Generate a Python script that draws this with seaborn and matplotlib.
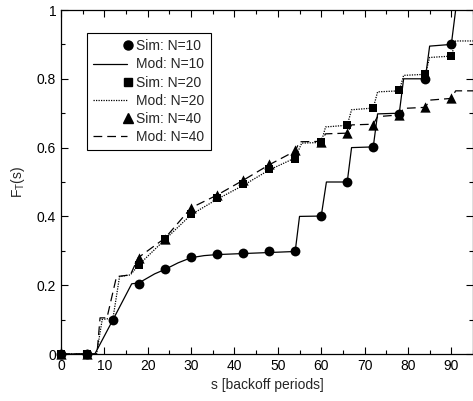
import matplotlib
matplotlib.use("Agg")
import matplotlib.pyplot as plt
import seaborn as sns
import pandas as pd
from matplotlib.lines import Line2D
from matplotlib.legend_handler import HandlerLine2D
from matplotlib.ticker import MultipleLocator

# ---- data ----
s_sim10 = [0, 6, 12, 18, 24, 30, 36, 42, 48, 54, 60, 66, 72, 78, 84, 90]
sim10 = [0, 0, 0.1, 0.204, 0.246, 0.283, 0.291, 0.294, 0.298, 0.300, 0.401, 0.50, 0.602, 0.698, 0.80, 0.90]

s_sim20 = [0, 6, 18, 24, 30, 36, 42, 48, 54, 60, 66, 72, 78, 84, 90]
sim20 = [0, 0, 0.259, 0.333, 0.407, 0.453, 0.494, 0.537, 0.567, 0.617, 0.667, 0.716, 0.767, 0.813, 0.867]

s_sim40 = [0, 6, 18, 24, 30, 36, 42, 48, 54, 60, 66, 72, 78, 84, 90]
sim40 = [0, 0, 0.278, 0.335, 0.423, 0.462, 0.506, 0.551, 0.593, 0.617, 0.642, 0.666, 0.695, 0.718, 0.743]

s_mod10 = [0, 7.8, 12, 16.3, 18, 21.6, 24, 27, 30, 33, 36, 42, 48, 54, 55, 60, 61.2, 66, 67, 72, 73, 78, 79, 84, 85, 90, 91, 95]
mod10 = [0, 0, 0.1, 0.204, 0.207, 0.233, 0.246, 0.265, 0.28, 0.286, 0.289, 0.292, 0.295, 0.298, 0.4, 0.401,
         0.5, 0.5, 0.6, 0.602, 0.698, 0.7, 0.8, 0.8, 0.895, 0.9, 1.0, 1.0]

s_mod20 = [0, 8.2, 9.5, 12, 13.5, 16, 18, 24, 30, 36, 42, 48, 54, 55.5, 60, 61, 66, 67, 72, 73, 78, 79, 84, 85, 90, 91, 95]
mod20 = [0, 0, 0.1, 0.105, 0.225, 0.23, 0.26, 0.333, 0.405, 0.45, 0.49, 0.535, 0.57, 0.613, 0.615, 0.66, 0.665,
         0.71, 0.715, 0.762, 0.765, 0.81, 0.813, 0.862, 0.866, 0.91, 0.91]

s_mod40 = [0, 8.3, 9, 10.6, 12.8, 16, 17.8, 24, 30, 36, 42, 48, 54, 55, 60, 61, 66, 67, 72, 73, 78, 79, 84, 85, 90, 91, 95]
mod40 = [0, 0, 0.105, 0.105, 0.225, 0.23, 0.28, 0.337, 0.425, 0.462, 0.505, 0.55, 0.59, 0.617, 0.618, 0.64, 0.642,
         0.666, 0.668, 0.69, 0.695, 0.714, 0.717, 0.738, 0.743, 0.765, 0.765]

x_ticks = [0, 10, 20, 30, 40, 50, 60, 70, 80, 90]
y_ticks = [0, 0.2, 0.4, 0.6, 0.8, 1.0]
y_ticklabels = ["0", "0.2", "0.4", "0.6", "0.8", "1"]

sns.set_style("ticks")
plt.rcParams["font.family"] = ["Liberation Sans", "DejaVu Sans"]
plt.rcParams["mathtext.fontset"] = "custom"
plt.rcParams["mathtext.rm"] = "Liberation Sans"
plt.rcParams["mathtext.it"] = "Liberation Sans:italic"

fig = plt.figure(figsize=(4.73, 4.01), dpi=100)
ax = fig.add_axes([61 / 473, 1 - 354 / 401, 1 - 61 / 473, (354 - 10) / 401])

lw = 0.9
dotted = (0, (1, 1))
dashed = (0, (7, 4))
sns.lineplot(x=s_mod10, y=mod10, ax=ax, color="black", lw=lw, sort=False, estimator=None)
sns.lineplot(x=s_mod20, y=mod20, ax=ax, color="black", lw=lw, sort=False, estimator=None, linestyle=dotted)
sns.lineplot(x=s_mod40, y=mod40, ax=ax, color="black", lw=lw, sort=False, estimator=None, linestyle=dashed)

sns.scatterplot(x=s_sim10, y=sim10, ax=ax, color="black", marker="o", s=50, edgecolor="black", linewidth=0,
                zorder=3, clip_on=False)
sns.scatterplot(x=s_sim40, y=sim40, ax=ax, color="black", marker="^", s=55, edgecolor="black", linewidth=0,
                zorder=4, clip_on=False)
sns.scatterplot(x=s_sim20, y=sim20, ax=ax, color="black", marker="s", s=40, edgecolor="black", linewidth=0,
                zorder=5, clip_on=False)

ax.set_xlim(0, 95)
ax.set_ylim(0, 1)
ax.set_xticks(x_ticks)
ax.set_yticks(y_ticks)
ax.set_yticklabels(y_ticklabels)
ax.xaxis.set_minor_locator(MultipleLocator(5))
ax.yaxis.set_minor_locator(MultipleLocator(0.1))
ax.tick_params(which="both", direction="in", top=True, right=True, labelsize=10, width=0.8, colors="black")
ax.tick_params(which="major", length=5)
ax.tick_params(which="minor", length=3)
for sp in ax.spines.values():
    sp.set_linewidth(0.9)
    sp.set_color("black")

ax.set_xlabel("s [backoff periods]", fontsize=10, labelpad=4)
ax.set_ylabel(r"F$_\mathrm{T}$(s)", fontsize=10, labelpad=7)


class RightMarkerHandler(HandlerLine2D):
    def get_xdata(self, legend, xdescent, ydescent, width, height, fontsize):
        pos = [-xdescent + width + 1]
        return pos, pos


handles = [
    Line2D([], [], color="black", marker="o", linestyle="none", markersize=6.5),
    Line2D([], [], color="black", lw=lw),
    Line2D([], [], color="black", marker="s", linestyle="none", markersize=5.5),
    Line2D([], [], color="black", lw=lw, linestyle=dotted),
    Line2D([], [], color="black", marker="^", linestyle="none", markersize=6.5),
    Line2D([], [], color="black", lw=lw, linestyle=dashed),
]
labels = ["Sim: N=10", "Mod: N=10", "Sim: N=20", "Mod: N=20", "Sim: N=40", "Mod: N=40"]
hm = {h: RightMarkerHandler(numpoints=2) for h in handles if h.get_marker() not in ("None", None, "")}
leg = ax.legend(handles, labels, loc="upper left", bbox_to_anchor=(26 / 412, 1 - 23 / 344),
                borderaxespad=0, fontsize=10, frameon=True, fancybox=False, framealpha=1, edgecolor="black",
                labelspacing=0.3, handlelength=2.4, handletextpad=0.7, borderpad=0.45,
                handler_map=hm)
leg.get_frame().set_linewidth(0.8)

fig.savefig("out.png", dpi=100)
